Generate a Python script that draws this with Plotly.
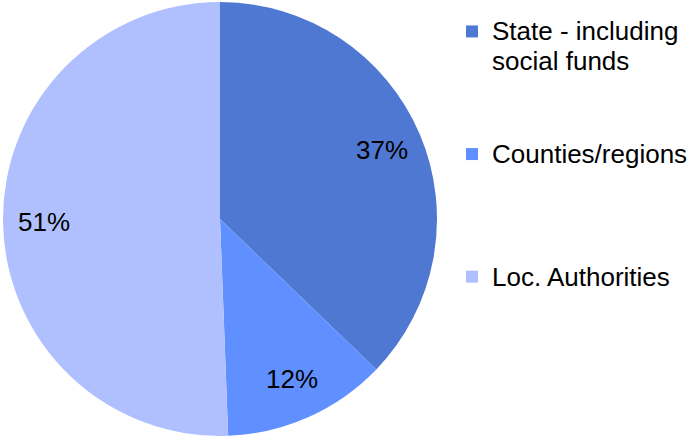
import math
import plotly.graph_objects as go

labels = ["State - including<br>social funds", "Counties/regions", "Loc. Authorities"]
legend_pad = ["<br> <br> ", "<br> <br> <br> ", ""]
values = [37.2, 12.2, 50.6]
colors = ["#4F78D2", "#6090FF", "#B0C0FF"]

W, H = 693, 436
cx, cy, R = 220, 219, 217  # pie centre / radius in pixels
dom_x = [max(0, (cx - R) / W), min(1, (cx + R) / W)]
dom_y = [max(0, 1 - (cy + R) / H), min(1, 1 - (cy - R) / H)]

legend_text = [f'<span style="font-size:26px">{l}{p}</span>' for l, p in zip(labels, legend_pad)]

fig = go.Figure(go.Pie(
    labels=legend_text,
    values=values,
    marker=dict(colors=colors, line=dict(width=0)),
    sort=False,
    direction="clockwise",
    rotation=0,
    textinfo="none",
    domain=dict(x=dom_x, y=dom_y),
    hoverinfo="percent",
))

# percentage labels, placed Excel-style at ~0.81 R on each slice's mid-angle
total = sum(values)
cum = 0
annotations = []
for v in values:
    mid = (cum + v / 2) / total * 2 * math.pi
    cum += v
    px = cx + 0.81 * R * math.sin(mid)
    py = cy - 0.81 * R * math.cos(mid)
    pct = math.floor(v / total * 100 + 0.5)
    annotations.append(dict(
        x=px / W, y=1 - py / H, xref="paper", yref="paper",
        text=f"{pct}%", showarrow=False,
        font=dict(size=26, color="black"),
        xanchor="center", yanchor="middle",
    ))

fig.update_layout(
    width=W, height=H,
    margin=dict(l=0, r=0, t=0, b=0),
    paper_bgcolor="white",
    font=dict(family="Liberation Sans, Arial, sans-serif", color="black"),
    legend=dict(
        x=452 / W, y=1 - 10 / H, xanchor="left", yanchor="top",
        font=dict(size=23, color="black"),
        valign="top",
        traceorder="normal",
        bgcolor="rgba(0,0,0,0)",
    ),
    annotations=annotations,
    showlegend=True,
)

fig.write_html("out.html", config={"displayModeBar": False},
               post_script="document.body.style.margin='0';")
